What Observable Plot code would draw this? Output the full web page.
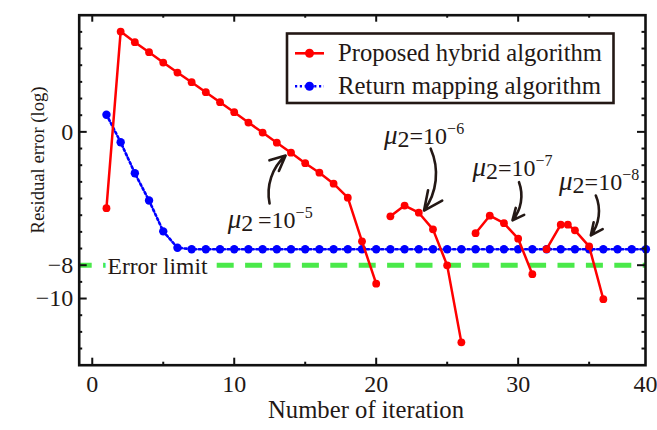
<!DOCTYPE html>
<html><head><meta charset="utf-8">
<script src="https://cdn.jsdelivr.net/npm/d3@7"></script>
<script src="https://cdn.jsdelivr.net/npm/@observablehq/plot@0.6"></script>
<style>
body{margin:0;background:#fff}
#chart{width:657px;height:430px}
</style>
</head><body><div id="chart"></div>
<script>
// ---- data ----
const hybridX   = [1,2,3,4,5,6,7,8,9,10,11,12,13,14,15,16,17,18,19,20, 21,22,23,24,25,26, 27,28,29,30,31, 32,33,33.5,34,35,36];
const hybridY   = [-4.58,6.02,5.38,4.78,4.16,3.56,2.98,2.38,1.78,1.18,0.56,-0.04,-0.65,-1.25,-1.88,-2.45,-3.11,-3.95,-6.57,-9.11,
                   -5.07,-4.42,-4.85,-5.85,-8.01,-12.63,
                   -6.08,-5.03,-5.48,-6.41,-8.54,
                   -7.04,-5.57,-5.57,-5.91,-6.87,-10.04];
const hybridSeg = [1,1,1,1,1,1,1,1,1,1,1,1,1,1,1,1,1,1,1,1, 2,2,2,2,2,2, 3,3,3,3,3, 4,4,4,4,4,4];

const returnX = [1,2,3,4,5,6,7,8,9,10,11,12,13,14,15,16,17,18,19,20,21,22,23,24,25,26,27,28,29,30,31,32,33,34,35,36,37,38,39];
const returnY = [1.03,-0.62,-2.48,-4.12,-5.97,-6.95,-7.04,-7.04,-7.04,-7.04,-7.04,-7.04,-7.04,-7.04,-7.04,-7.04,-7.04,-7.04,-7.04,-7.04,
                 -7.04,-7.04,-7.04,-7.04,-7.04,-7.04,-7.04,-7.04,-7.04,-7.04,-7.04,-7.04,-7.04,-7.04,-7.04,-7.04,-7.04,-7.04,-7.04];

const errorLimit = -8;
const errorLabel = "Error limit";
const errorLabelX = 1.08;

const seriesNames = ["Proposed hybrid algorithm", "Return mapping algorithm"];

// annotations: label position, arrow start, arrow end
const annText = ["μ2 =10−5", "μ2=10−6", "μ2=10−7", "μ2=10−8"];
const annX    = [9.54, 20.55, 26.78, 32.88];
const annY    = [-5.79, -0.71, -2.62, -3.47];
const arrX1   = [12.49, 23.84, 30.06, 35.47];
const arrY1   = [-4.30, -1.01, -3.02, -3.82];
const arrX2   = [13.62, 23.37, 29.60, 35.12];
const arrY2   = [-1.42, -4.72, -5.31, -6.21];

const xTickLabels = [0, 10, 20, 30, 40];
const xMajorTicks = [0, 10, 20, 30];
const xMinorTicks = [5, 15, 25, 35];
const yTickLabels = [0, -8, -10];
const yMinorTicks = [6,5,4,3,2,1,-1,-2,-3,-4,-5,-6,-7,-9,-11,-12,-13];

const xTitle = "Number of iteration";
const yTitle = "Residual error (log)";

// ---- layout ----
const W = 657, H = 430;
const mL = 78.7, mR = 12, mT = 14.7, mB = 65.3;
const X_MIN = -0.92, X_MAX = 38.97, Y_MIN = -14, Y_MAX = 7;
const kx = (X_MAX - X_MIN) / (W - mL - mR);   // data units per px
const ky = (Y_MAX - Y_MIN) / (H - mT - mB);

const hybrid = hybridX.map((x, i) => ({x, y: hybridY[i], seg: hybridSeg[i]}));
const ret = returnX.map((x, i) => ({x, y: returnY[i]}));
const anns = annText.map((t, i) => ({t, x: annX[i], y: annY[i], x1: arrX1[i], y1: arrY1[i], x2: arrX2[i], y2: arrY2[i]}));

const RED = "#ff0000", BLUE = "#0000ff", GREEN = "#4ae94a", INK = "#231815";
const FONT = "'Liberation Serif', 'Times New Roman', serif";

const fmt = d => d < 0 ? "\u2212" + Math.abs(d) : String(d);

const chart = Plot.plot({
  width: W, height: H,
  marginLeft: mL, marginRight: mR, marginTop: mT, marginBottom: mB,
  style: {fontFamily: FONT, background: "#fff", overflow: "visible"},
  x: {domain: [X_MIN, X_MAX], axis: null},
  y: {domain: [Y_MIN, Y_MAX], axis: null},
  marks: [
    // error limit
    Plot.ruleY([errorLimit], {x1: X_MIN, x2: X_MAX, stroke: GREEN, strokeWidth: 5, strokeDasharray: "17,11.4", strokeDashoffset: 4}),
    Plot.text([errorLabel], {x: errorLabelX, y: errorLimit, text: d => d, textAnchor: "start", lineAnchor: "middle",
      fontSize: 23.5, fill: INK, stroke: "white", strokeWidth: 9, paintOrder: "stroke", dy: 1}),
    // return mapping
    Plot.line(ret, {x: "x", y: "y", stroke: BLUE, strokeWidth: 2.6, strokeDasharray: "2.2,2.6"}),
    Plot.dot(ret, {x: "x", y: "y", r: 4.2, fill: BLUE}),
    // hybrid
    Plot.line(hybrid, {x: "x", y: "y", z: "seg", stroke: RED, strokeWidth: 2.5}),
    Plot.dot(hybrid, {x: "x", y: "y", r: 3.9, fill: RED}),
    // annotations
    Plot.arrow(anns, {x1: "x1", y1: "y1", x2: "x2", y2: "y2", bend: 30, stroke: INK, strokeWidth: 2.6, headLength: 13, headAngle: 50}),
    Plot.text(anns, {x: "x", y: "y", text: "t", textAnchor: "start", lineAnchor: "bottom", fontSize: 24, fill: INK}),
    // frame + ticks (inward, all four sides)
    Plot.frame({stroke: "#111", strokeWidth: 2.6}),
    Plot.ruleX(xMajorTicks, {x: d => d, y1: Y_MIN, y2: Y_MIN + 7 * ky, stroke: "#111", strokeWidth: 2}),
    Plot.ruleX(xMinorTicks, {x: d => d, y1: Y_MIN, y2: Y_MIN + 3 * ky, stroke: "#111", strokeWidth: 2}),
    Plot.ruleX(xMajorTicks, {x: d => d, y1: Y_MAX, y2: Y_MAX - 7 * ky, stroke: "#111", strokeWidth: 2}),
    Plot.ruleX(xMinorTicks, {x: d => d, y1: Y_MAX, y2: Y_MAX - 3 * ky, stroke: "#111", strokeWidth: 2}),
    Plot.ruleY(yTickLabels, {y: d => d, x1: X_MIN, x2: X_MIN + 8 * kx, stroke: "#111", strokeWidth: 2}),
    Plot.ruleY(yMinorTicks, {y: d => d, x1: X_MIN, x2: X_MIN + 3.5 * kx, stroke: "#111", strokeWidth: 2}),
    Plot.ruleY(yTickLabels, {y: d => d, x1: X_MAX, x2: X_MAX - 8 * kx, stroke: "#111", strokeWidth: 2}),
    Plot.ruleY(yMinorTicks, {y: d => d, x1: X_MAX, x2: X_MAX - 3.5 * kx, stroke: "#111", strokeWidth: 2}),
    // tick labels
    Plot.text(xTickLabels, {x: d => Math.min(d, X_MAX), y: Y_MIN, text: d => String(d), dy: 27, lineAnchor: "bottom", fontSize: 24, fill: INK}),
    Plot.text(yTickLabels, {x: X_MIN, y: d => d, text: fmt, textAnchor: "end", dx: -6, lineAnchor: "middle", fontSize: 24, fill: INK})
  ]
});

// rich text for μ2 = 10^-n annotations
chart.querySelectorAll("text").forEach(t => {
  const s = t.textContent;
  const m = s.match(/^μ(\d)(\s?)=10(.+)$/);
  if (!m) return;
  t.textContent = "";
  const ns = "http://www.w3.org/2000/svg";
  const add = (txt, attrs) => { const sp = document.createElementNS(ns, "tspan"); sp.textContent = txt; for (const k in attrs) sp.setAttribute(k, attrs[k]); t.appendChild(sp); };
  add("μ", {"font-style": "italic", "font-size": 27});
  add(m[1], {dy: 3, "font-size": 24});
  add((m[2] ? "\u2009" : "") + "=10", {dy: -3, "font-size": 24});
  add(m[3], {dy: -10, "font-size": 16});
});

const svg = d3.select(chart);

// axis titles
svg.append("text").attr("x", 366).attr("y", 418).attr("text-anchor", "middle")
  .attr("font-family", FONT).attr("font-size", 24.5).attr("fill", INK)
  .attr("textLength", 196).attr("lengthAdjust", "spacingAndGlyphs").text(xTitle);
svg.append("text").attr("transform", "translate(44,160) rotate(-90)").attr("text-anchor", "middle")
  .attr("font-family", FONT).attr("font-size", 19.5).attr("fill", INK)
  .attr("textLength", 147).attr("lengthAdjust", "spacingAndGlyphs").text(yTitle);

// legend (inside plot, upper right)
const lg = svg.append("g").attr("font-family", FONT).attr("text-anchor", "start");
lg.append("rect").attr("x", 287).attr("y", 33.5).attr("width", 326.5).attr("height", 69.5)
  .attr("fill", "white").attr("stroke", INK).attr("stroke-width", 2.6);
const rows = [{name: seriesNames[0], color: RED, dash: null, cy: 53.3, base: 60.5, len: 264},
              {name: seriesNames[1], color: BLUE, dash: "2.2,2.6", cy: 86.3, base: 93.5, len: 263}];
rows.forEach(r => {
  lg.append("line").attr("x1", 295).attr("x2", 324).attr("y1", r.cy).attr("y2", r.cy)
    .attr("stroke", r.color).attr("stroke-width", 2.6).attr("stroke-dasharray", r.dash);
  lg.append("circle").attr("cx", 309.5).attr("cy", r.cy).attr("r", 4.5).attr("fill", r.color);
  lg.append("text").attr("x", 338).attr("y", r.base).attr("font-size", 24.5).attr("fill", INK)
    .attr("textLength", r.len).attr("lengthAdjust", "spacingAndGlyphs").text(r.name);
});

document.getElementById("chart").appendChild(chart);
</script>
</body></html>
